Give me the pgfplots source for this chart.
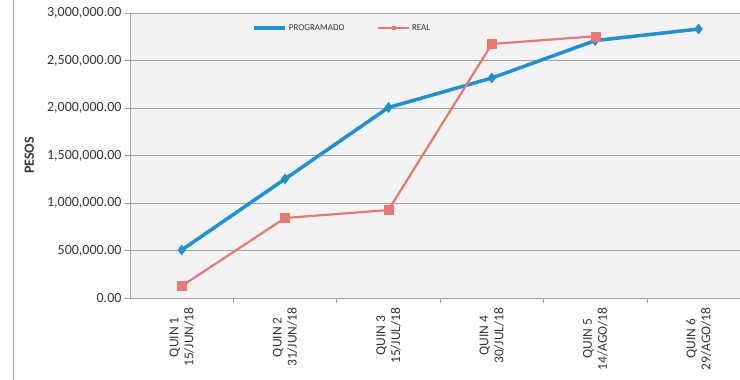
\documentclass[border=0pt]{standalone}
\usepackage{pgfplots}
\pgfplotsset{compat=1.18}
\usepackage{fontspec}
\setmainfont{Carlito}
\definecolor{progblue}{RGB}{30,144,212}
\definecolor{realred}{RGB}{234,120,112}
\definecolor{plotbg}{RGB}{243,243,243}
\definecolor{gridgray}{RGB}{160,160,160}
\definecolor{txt}{RGB}{50,55,55}
\begin{document}
\begin{tikzpicture}
\useasboundingbox (0pt,0pt) rectangle (740pt,380pt);
\draw[gray!70,line width=0.8pt] (13pt,0pt) -- (13pt,380pt);
\begin{axis}[
  at={(130pt,82pt)}, anchor=south west,
  scale only axis, width=610pt, height=285pt,
  xmin=-0.5, xmax=5.4, ymin=0, ymax=3000000,
  scaled y ticks=false,
  axis background/.style={fill=plotbg},
  axis x line*=bottom, axis y line*=left,
  axis line style={gridgray, line width=0.6pt},
  ymajorgrids, grid style={gridgray, line width=0.6pt},
  xtick={0,1,2,3,4,5},
  xticklabels={{QUIN 1\\15/JUN/18},{QUIN 2\\31/JUN/18},{QUIN 3\\15/JUL/18},{QUIN 4\\30/JUL/18},{QUIN 5\\14/AGO/18},{QUIN 6\\29/AGO/18}},
  xtick style={draw=none},
  xticklabel shift=6pt,
  x tick label style={rotate=90, anchor=east, align=center, font=\fontsize{13.5}{15}\selectfont, text=txt},
  ytick={0,500000,1000000,1500000,2000000,2500000,3000000},
  yticklabels={0.00,{500,000.00},{1,000,000.00},{1,500,000.00},{2,000,000.00},{2,500,000.00},{3,000,000.00}},
  y tick label style={font=\fontsize{14}{16}\selectfont, text=txt},
  ytick style={draw=gridgray, line width=0.6pt},
  ytick align=outside,
  major tick length=5pt,
  ylabel={PESOS},
  ylabel style={at={(axis description cs:-0.165,0.5)}, anchor=center, font=\bfseries\fontsize{14}{16}\selectfont, text=txt},
  legend style={at={(0.195,0.975)}, anchor=north west, draw=none, fill=none,
    font=\fontsize{9}{10}\selectfont, text=txt, legend columns=2,
    /tikz/every even column/.append style={column sep=30pt}},
  legend image code/.code={\draw[#1, mark size=1.5pt, mark repeat=2, mark phase=2] plot coordinates {(0cm,0cm)(0.55cm,0cm)(1.1cm,0cm)};},
]
\addplot[progblue, line width=3.5pt, mark=diamond*, mark size=5pt, mark options={line width=0.5pt}]
  coordinates {(0,505000) (1,1253000) (2,2005000) (3,2316000) (4,2710000) (5,2831000)};
\addlegendentry{PROGRAMADO}
\addplot[realred, line width=2.2pt, mark=square*, mark size=4.5pt, mark options={line width=0.5pt}]
  coordinates {(0,126000) (1,842000) (2,926000) (3,2674000) (4,2755000)};
\addlegendentry{REAL}
\coordinate (s1) at (axis cs:0.5,0);
\coordinate (s2) at (axis cs:1.5,0);
\coordinate (s3) at (axis cs:2.5,0);
\coordinate (s4) at (axis cs:3.5,0);
\coordinate (s5) at (axis cs:4.5,0);
\end{axis}
\foreach \c in {s1,s2,s3,s4,s5} {
  \draw[gridgray, line width=0.6pt] (\c) -- ([yshift=-5pt]\c);
}
\end{tikzpicture}
\end{document}
